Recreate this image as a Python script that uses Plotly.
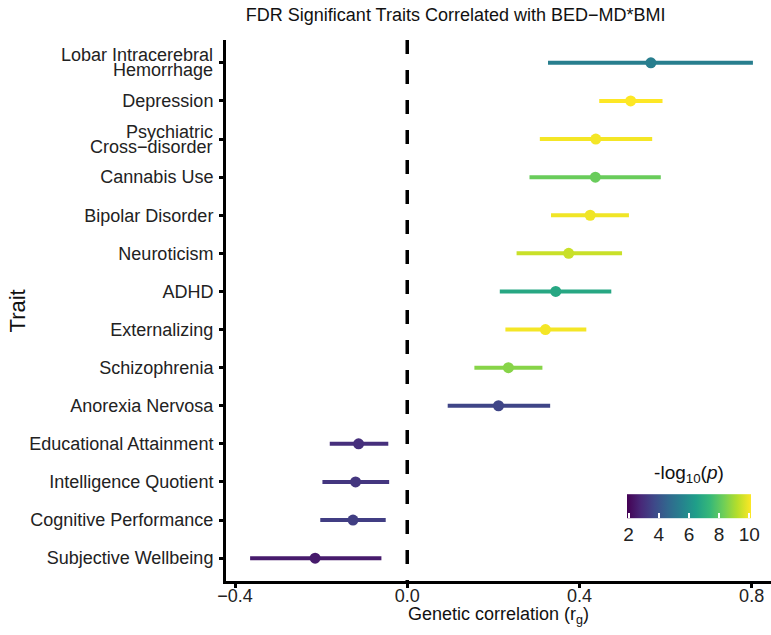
import plotly.graph_objects as go
from plotly.colors import sample_colorscale

traits = ["Lobar Intracerebral Hemorrhage", "Depression", "Psychiatric Cross\u2212disorder",
          "Cannabis Use", "Bipolar Disorder", "Neuroticism", "ADHD", "Externalizing",
          "Schizophrenia", "Anorexia Nervosa", "Educational Attainment",
          "Intelligence Quotient", "Cognitive Performance", "Subjective Wellbeing"]
rg = [0.566, 0.519, 0.438, 0.437, 0.425, 0.375, 0.345, 0.321, 0.235, 0.212,
      -0.113, -0.120, -0.126, -0.214]
rg_lo = [0.327, 0.446, 0.308, 0.284, 0.334, 0.254, 0.215, 0.228, 0.156, 0.094,
         -0.180, -0.197, -0.202, -0.365]
rg_hi = [0.803, 0.593, 0.569, 0.589, 0.515, 0.499, 0.474, 0.416, 0.314, 0.332,
         -0.044, -0.042, -0.050, -0.060]
neglog10p = [5.4, 10.11, 10.0, 8.2, 9.95, 9.45, 6.8, 10.0, 8.6, 3.6,
             3.0, 3.2, 3.4, 2.5]
cb_range = [1.89, 10.11]
# tick labels (two-line labels drawn separately with tighter line spacing)
tick_labels = ["", "Depression", "", "Cannabis Use", "Bipolar Disorder", "Neuroticism",
               "ADHD", "Externalizing", "Schizophrenia", "Anorexia Nervosa",
               "Educational Attainment", "Intelligence Quotient",
               "Cognitive Performance", "Subjective Wellbeing"]
multi_labels = {0: ["Lobar Intracerebral", "Hemorrhage"],
                2: ["Psychiatric", "Cross\u2212disorder"]}
x_ticks = [-0.4, 0.0, 0.4, 0.8]
x_ticktext = ["\u22120.4", "0.0", "0.4", "0.8"]
cb_ticks = [2, 4, 6, 8, 10]

cmin, cmax = cb_range
FONT = "Liberation Sans, Arial, Helvetica, sans-serif"

fig = go.Figure()

for i, t in enumerate(traits):
    col = sample_colorscale("Viridis", [(neglog10p[i] - cmin) / (cmax - cmin)])[0]
    fig.add_trace(go.Scatter(x=[rg_lo[i], rg_hi[i]], y=[t, t], mode="lines",
                             line=dict(color=col, width=4), showlegend=False,
                             hoverinfo="skip"))

fig.add_trace(go.Scatter(
    x=rg, y=traits, mode="markers", showlegend=False,
    marker=dict(size=11, color=neglog10p, colorscale="Viridis", cmin=cmin, cmax=cmax,
                line=dict(width=0),
                colorbar=dict(orientation="h", x=0.8495, xanchor="center",
                              y=0.037, yanchor="bottom",
                              len=144, lenmode="pixels", thickness=24,
                              outlinewidth=0, tickvals=cb_ticks,
                              ticks="inside", ticklen=5, tickwidth=1.5, tickcolor="white",
                              tickfont=dict(size=19, color="#222", family=FONT),
                              title=dict(text="-log<sub>10</sub>(<i>p</i>)", side="top",
                                         font=dict(size=19, color="#111", family=FONT))))))

fig.add_shape(type="line", xref="x", yref="paper", x0=0, x1=0, y0=1, y1=0,
              line=dict(color="black", width=3.5, dash="14px,16px"))

annotations = []
for idx, lines in multi_labels.items():
    for k, txt in enumerate(lines):
        annotations.append(dict(text=txt, xref="paper", yref="y", x=0, y=traits[idx],
                                xanchor="right", yanchor="middle", xshift=-11,
                                yshift=(7.5 if k == 0 else -7.5), showarrow=False,
                                font=dict(size=18, color="#222", family=FONT)))
annotations.append(dict(text="Trait", xref="paper", yref="paper", x=-0.3817, y=0.5,
                        textangle=-90, xanchor="center", yanchor="middle", showarrow=False,
                        font=dict(size=22, color="#111", family=FONT)))
annotations.append(dict(text="Genetic correlation (r<sub>g</sub>)", xref="paper",
                        yref="paper", x=0.5, y=-0.064, xanchor="center", yanchor="middle",
                        showarrow=False, font=dict(size=18, color="#111", family=FONT)))

fig.update_layout(
    width=771, height=635,
    margin=dict(l=226, r=0, t=40, b=54),
    plot_bgcolor="white", paper_bgcolor="white",
    font=dict(family=FONT, color="#222"),
    title=dict(text="FDR Significant Traits Correlated with BED\u2212MD*BMI",
               x=0.591, xanchor="center", xref="container",
               y=1 - 15 / 635, yanchor="middle", yref="container",
               font=dict(size=18, color="#111", family=FONT)),
    xaxis=dict(range=[-0.421, 0.845], tickvals=x_ticks, ticktext=x_ticktext,
               showgrid=False, zeroline=False, showline=True, linecolor="black",
               linewidth=3, ticks="outside", ticklen=4, tickwidth=3, tickcolor="black",
               ticklabelstandoff=-8, tickfont=dict(size=18, color="#222")),
    yaxis=dict(type="category", categoryorder="array", categoryarray=traits,
               range=[13.6, -0.6], tickvals=traits, ticktext=tick_labels,
               showgrid=False, zeroline=False, showline=True, linecolor="black",
               linewidth=3, ticks="outside", ticklen=4, tickwidth=3, tickcolor="black",
               ticklabelstandoff=2, tickfont=dict(size=18, color="#222")),
    annotations=annotations,
)

fig.write_html("out.html", config={"displayModeBar": False},
               post_script="document.body.style.margin='0';document.body.style.padding='0';")
